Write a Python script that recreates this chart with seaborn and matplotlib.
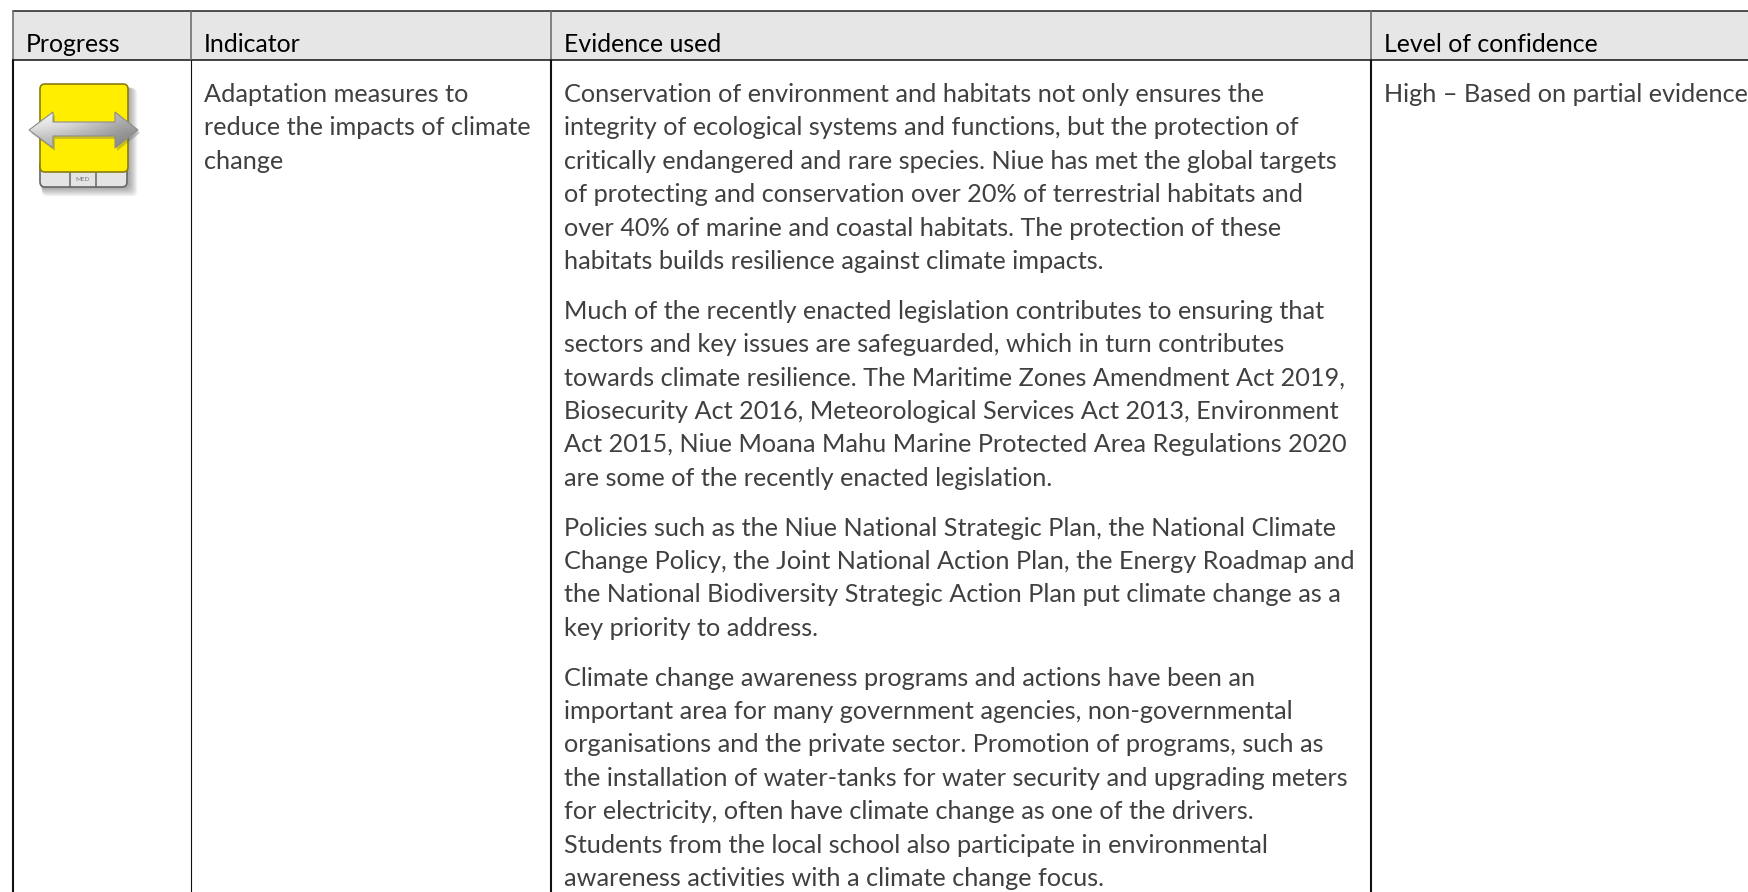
import matplotlib
matplotlib.use("Agg")
import matplotlib.pyplot as plt
from matplotlib.patches import FancyBboxPatch, Polygon, Rectangle
import numpy as np
import seaborn as sns

# table content
headers = ["Progress", "Indicator", "Evidence used", "Level of confidence"]
indicator_lines = ["Adaptation measures to", "reduce the impacts of climate", "change"]
confidence_lines = ["High \u2013 Based on partial evidence"]
evidence_paragraphs = [
    ["Conservation of environment and habitats not only ensures the",
     "integrity of ecological systems and functions, but the protection of",
     "critically endangered and rare species. Niue has met the global targets",
     "of protecting and conservation over 20% of terrestrial habitats and",
     "over 40% of marine and coastal habitats. The protection of these",
     "habitats builds resilience against climate impacts."],
    ["Much of the recently enacted legislation contributes to ensuring that",
     "sectors and key issues are safeguarded, which in turn contributes",
     "towards climate resilience. The Maritime Zones Amendment Act 2019,",
     "Biosecurity Act 2016, Meteorological Services Act 2013, Environment",
     "Act 2015, Niue Moana Mahu Marine Protected Area Regulations 2020",
     "are some of the recently enacted legislation."],
    ["Policies such as the Niue National Strategic Plan, the National Climate",
     "Change Policy, the Joint National Action Plan, the Energy Roadmap and",
     "the National Biodiversity Strategic Action Plan put climate change as a",
     "key priority to address."],
    ["Climate change awareness programs and actions have been an",
     "important area for many government agencies, non-governmental",
     "organisations and the private sector. Promotion of programs, such as",
     "the installation of water-tanks for water security and upgrading meters",
     "for electricity, often have climate change as one of the drivers.",
     "Students from the local school also participate in environmental",
     "awareness activities with a climate change focus."],
]

W, H = 1749, 892
col_x = [13, 191, 551, 1371]
body_lw = [1.5, 0.8, 1.5, 1.5]
pad = 13
header_top, header_bottom = 11, 60
first_line = 94.5
line_h = 33.4
para_gap = 16.4
body_size = 18.2
head_size = 17.9

sns.set_theme(style="white")
plt.rcParams["font.family"] = ["Lato", "Noto Sans", "DejaVu Sans"]

fig, ax = plt.subplots(figsize=(W / 100, H / 100), dpi=100)
ax.set_position([0, 0, 1, 1])
ax.set_xlim(0, W)
ax.set_ylim(H, 0)
ax.axis("off")

# header band and rules
ax.add_patch(Rectangle((col_x[0], header_top), W - col_x[0], header_bottom - header_top,
                       fc="#e6e6e6", ec="none", zorder=0))
ax.plot([col_x[0], W], [header_top, header_top], color="#222222", lw=1.1)
ax.plot([col_x[0], W], [header_bottom, header_bottom], color="#111111", lw=1.1)
for x, lw in zip(col_x, body_lw):
    ax.plot([x, x], [header_top, header_bottom], color="#666666", lw=1.1)
    ax.plot([x, x], [header_bottom, H], color="#111111", lw=lw)

for x, label in zip(col_x, headers):
    ax.text(x + pad, 45, label, fontsize=head_size, color="#000000", va="center", ha="left")


def put_lines(x, y, lines):
    for line in lines:
        ax.text(x, y, line, fontsize=body_size, color="#404040", va="center", ha="left")
        y += line_h
    return y


put_lines(col_x[1] + pad, first_line, indicator_lines)
put_lines(col_x[3] + pad, first_line, confidence_lines)
y = first_line
for para in evidence_paragraphs:
    y = put_lines(col_x[2] + pad, y, para) + para_gap


# progress icon
def round_box(x0, y0, w, h, **kw):
    box = FancyBboxPatch((x0 + 4, y0 + 4), w - 8, h - 8, boxstyle="round,pad=4,rounding_size=5", **kw)
    ax.add_patch(box)
    return box


for grow in range(1, 8):
    round_box(40 + grow * 0.3, 86 + grow * 0.3, 88 + grow, 101 + grow, fc="#333333", ec="none",
              alpha=0.07, zorder=2)
round_box(40, 160, 87, 27, fc="#e4e4e4", ec="#666666", lw=1.2, zorder=3)
for x in (70, 96):
    ax.plot([x, x], [172, 187], color="#666666", lw=1.1, zorder=3)
ax.text(83, 179.5, "MED", fontsize=4.5, color="#777777", ha="center", va="center", zorder=3)
round_box(40, 84, 88, 88, fc="#ffee00", ec="#8a7d10", lw=1.2, zorder=4)

arrow_pts = [(29, 130), (53, 112), (53, 122), (115, 122), (115, 112), (138, 130),
             (115, 148), (115, 136), (53, 136), (53, 148)]
shadow = Polygon([(a + 2, b + 3) for a, b in arrow_pts], fc="#555555", ec="none", alpha=0.3, zorder=5)
ax.add_patch(shadow)
arrow = Polygon(arrow_pts, fc="none", ec="#8c8c8c", lw=0.8, zorder=7)
ax.add_patch(arrow)
# light on the left, darker towards the right tip
shade = np.array([[0.95, 0.90, 0.80, 0.68],
                  [0.90, 0.84, 0.74, 0.62],
                  [0.80, 0.74, 0.66, 0.56],
                  [0.72, 0.68, 0.60, 0.52]])
img = ax.imshow(shade, cmap="gray", vmin=0, vmax=1, extent=(29, 138, 148, 112), aspect="auto",
                interpolation="bicubic", zorder=6)
img.set_clip_path(arrow)
ax.set_xlim(0, W)
ax.set_ylim(H, 0)

fig.savefig("out.png", dpi=100)
